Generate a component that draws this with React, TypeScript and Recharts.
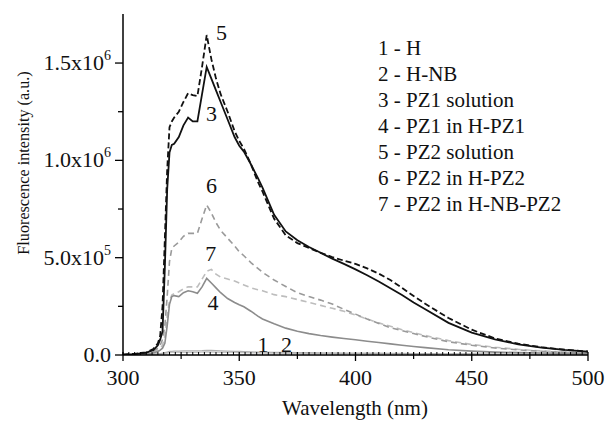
import { LineChart, Line, XAxis, YAxis, ReferenceDot } from 'recharts';

// wavelength grid (nm) and intensities in units of 10^6 a.u.
const wavelengths = [
  300, 305, 310, 313, 315, 316, 317, 318, 319, 320,
  321, 322, 324, 326, 328, 330, 332, 334, 336, 338,
  340, 342, 345, 348, 350, 352, 355, 358, 360, 365,
  370, 375, 380, 385, 390, 395, 400, 405, 410, 415,
  420, 425, 430, 440, 450, 460, 470, 480, 490, 500,
];

const hHost = [
  0, 0.001, 0.002, 0.003, 0.004, 0.005, 0.006, 0.008, 0.01, 0.012,
  0.013, 0.013, 0.013, 0.014, 0.014, 0.014, 0.014, 0.015, 0.016, 0.015,
  0.015, 0.014, 0.013, 0.013, 0.012, 0.012, 0.011, 0.011, 0.01, 0.01,
  0.009, 0.009, 0.008, 0.008, 0.007, 0.007, 0.007, 0.006, 0.006, 0.006,
  0.005, 0.005, 0.005, 0.004, 0.004, 0.003, 0.003, 0.003, 0.002, 0.002,
];

const hNb = [
  0, 0.001, 0.003, 0.004, 0.006, 0.007, 0.009, 0.012, 0.015, 0.018,
  0.019, 0.02, 0.02, 0.021, 0.021, 0.021, 0.021, 0.022, 0.024, 0.023,
  0.022, 0.021, 0.02, 0.019, 0.018, 0.017, 0.016, 0.015, 0.015, 0.014,
  0.013, 0.012, 0.012, 0.011, 0.011, 0.01, 0.01, 0.009, 0.009, 0.008,
  0.008, 0.007, 0.007, 0.006, 0.006, 0.005, 0.005, 0.004, 0.004, 0.003,
];

const pz1Solution = [
  0.002, 0.005, 0.012, 0.025, 0.05, 0.08, 0.12, 0.45, 0.85, 1.04,
  1.08, 1.085, 1.12, 1.18, 1.22, 1.2, 1.2, 1.34, 1.48, 1.42,
  1.36, 1.3, 1.21, 1.12, 1.075, 1.045, 0.98, 0.91, 0.86, 0.72,
  0.635, 0.59, 0.555, 0.525, 0.495, 0.468, 0.44, 0.41, 0.378, 0.343,
  0.308, 0.27, 0.235, 0.165, 0.115, 0.08, 0.055, 0.038, 0.026, 0.017,
];

const pz1InHPz1 = [
  0, 0.002, 0.005, 0.01, 0.018, 0.025, 0.035, 0.06, 0.15, 0.26,
  0.3, 0.305, 0.3, 0.32, 0.33, 0.325, 0.317, 0.35, 0.394, 0.37,
  0.345, 0.32, 0.29, 0.27, 0.258, 0.248, 0.225, 0.2, 0.185, 0.16,
  0.138, 0.122, 0.11, 0.1, 0.092, 0.085, 0.078, 0.071, 0.064, 0.057,
  0.05, 0.044, 0.038, 0.027, 0.02, 0.015, 0.012, 0.01, 0.009, 0.008,
];

const pz2Solution = [
  0.002, 0.006, 0.014, 0.03, 0.06, 0.1, 0.25, 0.6, 0.95, 1.17,
  1.2, 1.22, 1.25, 1.3, 1.345, 1.335, 1.33, 1.48, 1.644, 1.52,
  1.42, 1.34, 1.25, 1.15, 1.1, 1.06, 0.98, 0.89, 0.84, 0.7,
  0.615, 0.575, 0.55, 0.525, 0.503, 0.485, 0.468, 0.445, 0.418, 0.385,
  0.345, 0.303, 0.263, 0.19, 0.13, 0.085, 0.058, 0.04, 0.027, 0.018,
];

const pz2InHPz2 = [
  0.001, 0.004, 0.01, 0.02, 0.035, 0.05, 0.08, 0.15, 0.3, 0.48,
  0.548, 0.56, 0.58, 0.61, 0.625, 0.625, 0.625, 0.7, 0.771, 0.73,
  0.68, 0.64, 0.6, 0.56, 0.53, 0.51, 0.475, 0.445, 0.425, 0.385,
  0.352, 0.32, 0.3, 0.282, 0.262, 0.235, 0.21, 0.185, 0.162, 0.14,
  0.125, 0.11, 0.095, 0.068, 0.05, 0.036, 0.026, 0.019, 0.014, 0.01,
];

const pz2InHNbPz2 = [
  0.001, 0.003, 0.008, 0.015, 0.025, 0.035, 0.05, 0.1, 0.2, 0.28,
  0.308, 0.315, 0.325, 0.34, 0.35, 0.35, 0.35, 0.39, 0.43, 0.44,
  0.415, 0.4, 0.39, 0.38, 0.37, 0.36, 0.345, 0.335, 0.33, 0.31,
  0.3, 0.285, 0.27, 0.255, 0.24, 0.225, 0.205, 0.185, 0.165, 0.148,
  0.13, 0.115, 0.1, 0.074, 0.054, 0.04, 0.029, 0.021, 0.015, 0.011,
];

const legendLines = [
  '1 - H',
  '2 - H-NB',
  '3 - PZ1 solution',
  '4 - PZ1 in H-PZ1',
  '5 - PZ2 solution',
  '6 - PZ2 in H-PZ2',
  '7 - PZ2 in H-NB-PZ2',
];

// curve number labels: [text, wavelength, intensity]
const curveTags: [string, number, number][] = [
  ['5', 342.4, 1.66],
  ['3', 338.1, 1.24],
  ['6', 338.1, 0.872],
  ['7', 337.7, 0.525],
  ['4', 338.7, 0.273],
  ['1', 360.2, 0.058],
  ['2', 370.3, 0.058],
];

const xMajor = [300, 350, 400, 450, 500];
const xTicks = Array.from({ length: 81 }, (_, i) => 300 + i * 2.5);
const xTopTicks = [300, 325, 350, 375, 400, 425, 450, 475, 500];
const yTicks = [0, 0.25, 0.5, 0.75, 1, 1.25, 1.5];
const yLabels: Record<string, [string, string]> = {
  '0': ['0.0', ''],
  '0.5': ['5.0x10', '5'],
  '1': ['1.0x10', '6'],
  '1.5': ['1.5x10', '6'],
};

const FONT = 'Liberation Serif, Times New Roman, Times, Tinos, Noto Serif, DejaVu Serif, serif';

const data = wavelengths.map((wl, i) => ({
  wl,
  h: hHost[i],
  hnb: hNb[i],
  pz1: pz1Solution[i],
  pz1h: pz1InHPz1[i],
  pz2: pz2Solution[i],
  pz2h: pz2InHPz2[i],
  pz2hnb: pz2InHNbPz2[i],
}));

const BottomTick = (props: any) => {
  const { x, y, payload } = props;
  const v = payload.value;
  const major = xMajor.includes(v);
  const mid = !major && v % 25 === 0;
  return (
    <g>
      {major && <line x1={x} x2={x} y1={y - 3} y2={y + 6} stroke="#000" strokeWidth={1.3} />}
      {mid && <line x1={x} x2={x} y1={y - 3} y2={y + 4} stroke="#000" strokeWidth={1.2} />}
      {!major && !mid && <line x1={x} x2={x} y1={y - 3} y2={y} stroke="#000" strokeWidth={1} />}
      {major && (
        <text x={x} y={y + 30} textAnchor="middle" fontSize={22} fontFamily={FONT} fill="#111">
          {v}
        </text>
      )}
    </g>
  );
};

const TopTick = (props: any) => {
  const { x, y } = props;
  return <line x1={x} x2={x} y1={y} y2={y + 4} stroke="#000" strokeWidth={1.2} />;
};

const LeftTick = (props: any) => {
  const { x, y, payload } = props;
  const lab = yLabels[String(payload.value)];
  return (
    <g>
      <line x1={x - (lab ? 8 : 5)} x2={x} y1={y} y2={y} stroke="#000" strokeWidth={1.3} />
      {lab && (
        <text x={x - 12} y={y + 7} textAnchor="end" fontSize={22} fontFamily={FONT} fill="#111">
          <tspan>{lab[0]}</tspan>
          {lab[1] && (
            <tspan dy={-10} fontSize={14}>
              {lab[1]}
            </tspan>
          )}
        </text>
      )}
    </g>
  );
};

export default function App() {
  return (
    <div style={{ position: 'absolute', left: 0, top: 0, width: 608, height: 422, background: '#fff', fontFamily: FONT }}>
      <LineChart width={608} height={422} data={data} margin={{ top: 14, right: 20, bottom: 0, left: 0 }}>
        <XAxis
          dataKey="wl"
          type="number"
          domain={[300, 500]}
          allowDataOverflow
          ticks={xTicks}
          interval={0}
          tickSize={0}
          tickMargin={0}
          tick={<BottomTick />}
          height={67}
          axisLine={{ stroke: '#000', strokeWidth: 1.5 }}
        />
        <XAxis
          xAxisId="top"
          orientation="top"
          dataKey="wl"
          type="number"
          domain={[300, 500]}
          allowDataOverflow
          ticks={xTopTicks}
          interval={0}
          tickSize={0}
          tickMargin={0}
          tick={<TopTick />}
          height={0}
          axisLine={{ stroke: '#000', strokeWidth: 1.5 }}
        />
        <YAxis
          type="number"
          domain={[0, 1.752]}
          allowDataOverflow
          ticks={yTicks}
          interval={0}
          tickSize={0}
          tickMargin={0}
          tick={<LeftTick />}
          width={123}
          axisLine={{ stroke: '#000', strokeWidth: 1.5 }}
        />
        <YAxis
          yAxisId="right"
          orientation="right"
          type="number"
          domain={[0, 1.752]}
          tick={false}
          tickLine={false}
          width={0}
          axisLine={{ stroke: '#000', strokeWidth: 1.5 }}
        />
        <Line dataKey="h" stroke="#c4c4c4" strokeWidth={1.3} dot={false} isAnimationActive={false} />
        <Line dataKey="hnb" stroke="#b0b0b0" strokeWidth={1.3} dot={false} isAnimationActive={false} />
        <Line dataKey="pz2hnb" stroke="#bdbdbd" strokeWidth={1.6} strokeDasharray="6 4" dot={false} isAnimationActive={false} />
        <Line dataKey="pz2h" stroke="#9a9a9a" strokeWidth={1.6} strokeDasharray="6 4" dot={false} isAnimationActive={false} />
        <Line dataKey="pz1h" stroke="#8c8c8c" strokeWidth={1.6} dot={false} isAnimationActive={false} />
        <Line dataKey="pz2" stroke="#111" strokeWidth={1.8} strokeDasharray="6 3" dot={false} isAnimationActive={false} />
        <Line dataKey="pz1" stroke="#111" strokeWidth={1.8} dot={false} isAnimationActive={false} />
        {curveTags.map(([t, wl, v]) => (
          <ReferenceDot
            key={t}
            x={wl}
            y={v}
            r={0}
            fill="none"
            stroke="none"
            label={{ value: t, position: 'center', fontSize: 22, fontFamily: FONT, fill: '#111' }}
          />
        ))}
      </LineChart>
      <svg width={608} height={422} style={{ position: 'absolute', left: 0, top: 0, pointerEvents: 'none' }}>
        <text transform="translate(29,163) rotate(-90)" textAnchor="middle" fontSize={16.2} fontFamily={FONT} fill="#111">
          Fluorescence intensity (a.u.)
        </text>
        <text x={355} y={415} textAnchor="middle" fontSize={21} fontFamily={FONT} fill="#111">
          Wavelength (nm)
        </text>
        {legendLines.map((s, i) => (
          <text key={s} x={378} y={54.5 + i * 26} fontSize={21} fontFamily={FONT} fill="#111">
            {s}
          </text>
        ))}
      </svg>
    </div>
  );
}
